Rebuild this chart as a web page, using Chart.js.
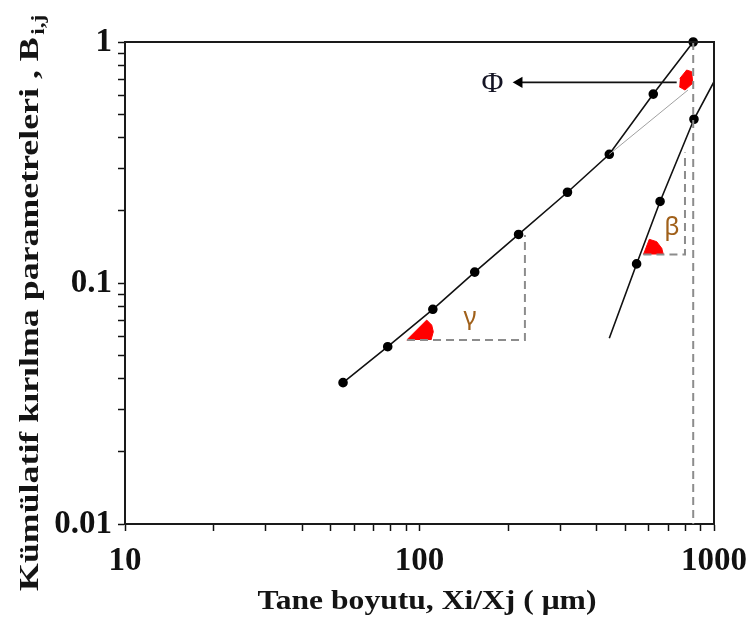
<!DOCTYPE html>
<html>
<head>
<meta charset="utf-8">
<script src="https://cdn.jsdelivr.net/npm/chart.js@4/dist/chart.umd.min.js"></script>
<style>
  body { margin: 0; background: #fff; }
  #wrap { width: 750px; height: 622px; }
</style>
</head>
<body>
<div id="wrap"><canvas id="chart" width="750" height="622"></canvas></div>
<script>
// axis ticks (log-log)
const xTicks = [10, 20, 30, 40, 50, 60, 70, 80, 90, 100, 200, 300, 400, 500, 600, 700, 800, 900, 1000];
const xTickLabels = [10, 100, 1000];
const yTicks = [0.01, 0.02, 0.03, 0.04, 0.05, 0.06, 0.07, 0.08, 0.09, 0.1, 0.2, 0.3, 0.4, 0.5, 0.6, 0.7, 0.8, 0.9, 1];
const yTickLabels = [0.01, 0.1, 1];

// measured cumulative breakage curve
const upperX = [55, 78, 111, 154, 217, 318, 441, 622, 850];
const upperY = [0.0386, 0.0544, 0.0778, 0.111, 0.159, 0.238, 0.342, 0.608, 1.0];

// steep branch (beta) with its fitted line ends
const steepX = [441, 546, 656, 855, 1000];
const steepY = [0.059, 0.12, 0.218, 0.478, 0.684];

// thin guide towards phi
const guideX = [441, 816];
const guideY = [0.342, 0.632];

// dashed construction lines
const gammaDashX = [90.7, 228, 228];
const gammaDashY = [0.058, 0.058, 0.158];
const betaDashX = [576, 797, 797];
const betaDashY = [0.1313, 0.1313, 0.3477];
const topDashX = [850, 850];
const topDashY = [1, 0.01];

// red angle marks
const gammaWedgeX = [90.5, 105.8, 110, 111.4, 109.4];
const gammaWedgeY = [0.058, 0.0702, 0.0669, 0.0628, 0.058];
const betaWedgeX = [576, 603, 639, 664.6, 673];
const betaWedgeY = [0.1313, 0.1518, 0.1484, 0.1393, 0.1313];
const phiMarkX = [766.5, 807.5, 840, 846.7, 797, 762];
const phiMarkY = [0.707, 0.765, 0.753, 0.674, 0.632, 0.652];

// arrow from phi mark to its label
const arrowX = [218, 747];
const arrowY = [0.68, 0.68];

// text annotations
const annotText = ["Φ", "γ", "β"];
const annotX = [177, 148.5, 720];
const annotY = [0.669, 0.0716, 0.169];

const xTitle = "Tane boyutu, Xi/Xj ( μm)";
const yTitle = "Kümülatif kırılma parametreleri , B";
const yTitleSub = "i,j";

const pts = (xs, ys) => xs.map((x, i) => ({ x, y: ys[i] }));

const dashed = (xs, ys) => ({
  data: pts(xs, ys), borderColor: "#8c8c8c", borderWidth: 2, borderDash: [8, 5], pointRadius: 0, fill: false
});
const wedge = (xs, ys) => ({
  data: pts(xs, ys), borderColor: "#ff0000", backgroundColor: "#ff0000", borderWidth: 1, pointRadius: 0, fill: "shape"
});

const serif = '"Liberation Serif", "Times New Roman", serif';

const framePlugin = {
  id: "frame",
  afterDatasetsDraw(chart) {
    const { ctx, chartArea: a } = chart;
    ctx.save();
    ctx.strokeStyle = "#1a1a1a";
    ctx.lineWidth = 2;
    ctx.beginPath();
    ctx.moveTo(a.left, a.top);
    ctx.lineTo(a.right, a.top);
    ctx.lineTo(a.right, a.bottom);
    ctx.stroke();
    ctx.restore();
  }
};

const labelPlugin = {
  id: "labels",
  afterDraw(chart) {
    const { ctx, scales } = chart;
    ctx.save();
    ctx.textAlign = "center";
    ctx.textBaseline = "middle";
    annotText.forEach((t, i) => {
      const px = scales.x.getPixelForValue(annotX[i]);
      const py = scales.y.getPixelForValue(annotY[i]);
      if (t === "Φ") {
        ctx.font = "30px " + serif;
        ctx.fillStyle = "#141424";
      } else {
        ctx.font = "25px \"Noto Sans\", sans-serif";
        ctx.fillStyle = "#a0601a";
      }
      ctx.fillText(t, px, py);
    });
    ctx.restore();

    // x title, a little wider than the font
    ctx.save();
    ctx.font = "bold 27px " + serif;
    ctx.fillStyle = "#141414";
    ctx.textAlign = "center";
    ctx.textBaseline = "alphabetic";
    ctx.translate(427, 609);
    ctx.scale(1.17, 1);
    ctx.fillText(xTitle, 0, 0);
    ctx.restore();

    // y title with subscript
    ctx.save();
    ctx.font = "bold 28px " + serif;
    ctx.fillStyle = "#141414";
    ctx.textAlign = "left";
    ctx.textBaseline = "alphabetic";
    ctx.translate(38, 591);
    ctx.rotate(-Math.PI / 2);
    ctx.scale(1.28, 1);
    ctx.fillText(yTitle, 0, 0);
    const w = ctx.measureText(yTitle).width;
    ctx.font = "bold 18px " + serif;
    ctx.fillText(yTitleSub, w + 2, 6);
    ctx.restore();
  }
};

new Chart(document.getElementById("chart"), {
  type: "line",
  data: {
    datasets: [
      dashed(gammaDashX, gammaDashY),
      dashed(betaDashX, betaDashY),
      dashed(topDashX, topDashY),
      { data: pts(guideX, guideY), borderColor: "#a0a0a0", borderWidth: 1, pointRadius: 0 },
      wedge(gammaWedgeX, gammaWedgeY),
      wedge(betaWedgeX, betaWedgeY),
      wedge(phiMarkX, phiMarkY),
      {
        data: pts(upperX, upperY), borderColor: "#111", borderWidth: 1.6, clip: false,
        pointRadius: 4, pointBackgroundColor: "#000", pointBorderColor: "#000"
      },
      {
        data: pts(steepX, steepY), borderColor: "#111", borderWidth: 1.6,
        pointRadius: [0, 4, 4, 4, 0], pointBackgroundColor: "#000", pointBorderColor: "#000"
      },
      {
        data: pts(arrowX, arrowY), borderColor: "#111", borderWidth: 1.6,
        pointStyle: "triangle", rotation: -90, pointRadius: [5, 0],
        pointBackgroundColor: "#000", pointBorderColor: "#000"
      }
    ]
  },
  options: {
    responsive: false,
    animation: false,
    events: [],
    layout: { padding: { top: 42, right: 36, left: 0, bottom: 0 } },
    plugins: { legend: { display: false }, tooltip: { enabled: false } },
    scales: {
      x: {
        type: "logarithmic",
        min: 10, max: 1000,
        afterBuildTicks: (s) => { s.ticks = xTicks.map(v => ({ value: v })); },
        afterFit: (s) => { s.height = 98; s.paddingLeft = 0; s.paddingRight = 0; },
        grid: { drawOnChartArea: false, drawTicks: true, tickLength: 7, tickWidth: 1.5, tickColor: "#111" },
        border: { display: true, color: "#1a1a1a", width: 2 },
        ticks: {
          autoSkip: false, maxRotation: 0, padding: 11, color: "#111",
          font: { family: serif, size: 33, weight: "bold" },
          callback: (v) => xTickLabels.includes(v) ? String(v) : ""
        }
      },
      y: {
        type: "logarithmic",
        min: 0.01, max: 1,
        afterBuildTicks: (s) => { s.ticks = yTicks.map(v => ({ value: v })); },
        afterFit: (s) => { s.width = 125; s.paddingTop = 0; s.paddingBottom = 0; },
        grid: { drawOnChartArea: false, drawTicks: true, tickLength: 7, tickWidth: 1.5, tickColor: "#111" },
        border: { display: true, color: "#1a1a1a", width: 2 },
        ticks: {
          autoSkip: false, padding: 6, color: "#111",
          font: { family: serif, size: 33, weight: "bold" },
          callback: (v) => yTickLabels.includes(v) ? String(v) : ""
        }
      }
    }
  },
  plugins: [framePlugin, labelPlugin]
});
</script>
</body>
</html>
